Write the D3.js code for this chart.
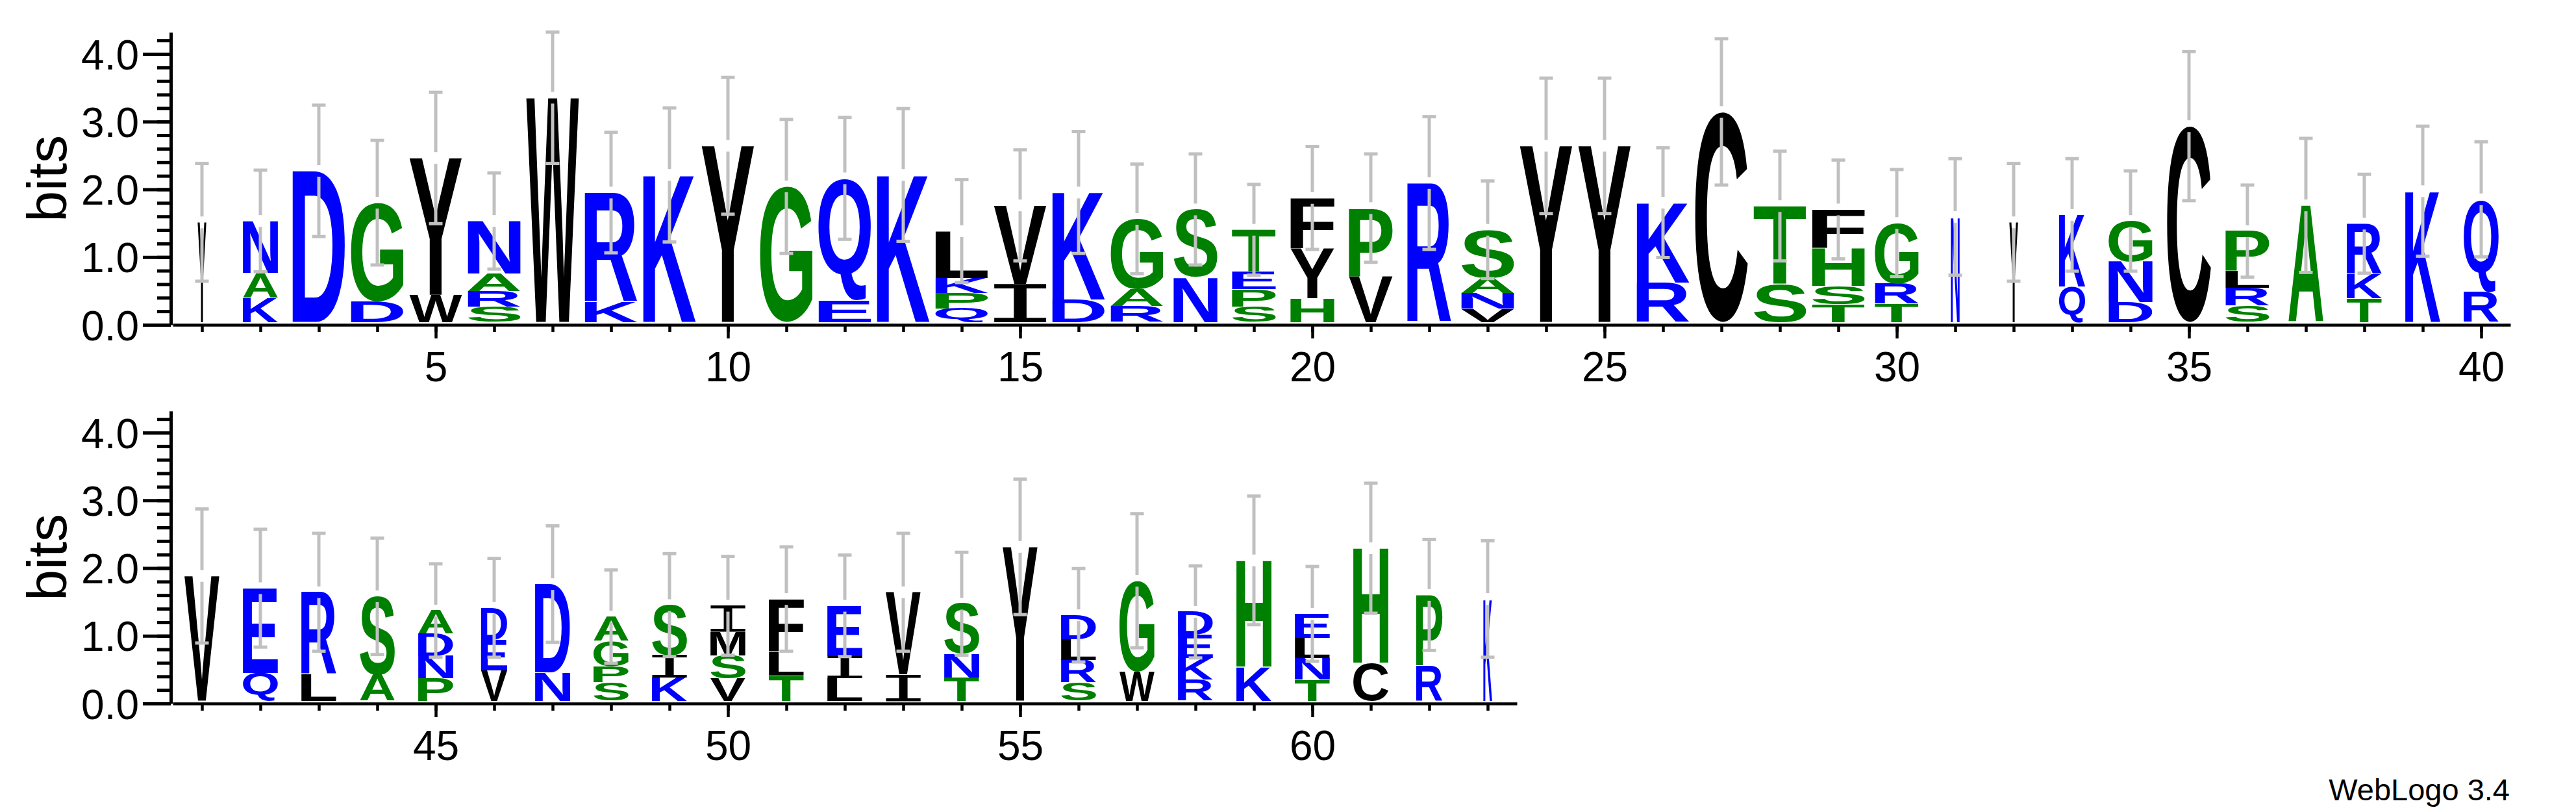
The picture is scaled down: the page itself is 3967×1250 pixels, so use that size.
<!DOCTYPE html>
<html><head><meta charset="utf-8">
<script src="https://cdn.jsdelivr.net/npm/d3@7"></script>
<style>html,body{margin:0;padding:0;background:#fff;} svg{display:block;}</style>
</head><body>
<svg id="chart" width="3967" height="1250"></svg>
<script>
// ---------- data ----------
const positions = [1,2,3,4,5,6,7,8,9,10,11,12,13,14,15,16,17,18,19,20,21,22,23,24,25,26,27,28,29,30,31,32,33,34,35,36,37,38,39,40,
  41,42,43,44,45,46,47,48,49,50,51,52,53,54,55,56,57,58,59,60,61,62,63];
// letters of each stack, bottom to top
const stackLetters = ["Y","KAN","D","DG","WY","SRAN","W","KR","K","Y","G","EQ","K","QPKL","IV","DK","RAG","NS","SPET","HYF",
  "VP","R","VNAS","Y","Y","RK","C","ST","TSHF","TRG","N","Y","QK","DNG","C","SRLP","A","TKR","K","RQ",
  "V","QE","LR","AS","PNDA","VED","ND","SPGA","KIS","VSMI","TLF","LIE","IV","TNS","Y","SRLD","WG","RKED","KH","TNLE","CH","RP","K"];
// height (bits) of each letter, bottom to top
const stackBits = [[1.47],[0.36,0.36,0.77],[2.23],[0.30,1.46],[0.40,2.02],[0.22,0.23,0.26,0.78],[3.31],[0.30,1.61],[2.17],[2.60],
  [2.00],[0.32,1.80],[2.17],[0.20,0.23,0.22,0.69],[0.56,1.16],[0.33,1.58],[0.23,0.25,1.04],[0.66,1.00],[0.23,0.25,0.26,0.62],[0.35,0.74,0.74],
  [0.68,1.00],[2.05],[0.20,0.23,0.22,0.71],[2.60],[2.60],[0.58,1.18],[3.10],[0.56,1.15],[0.26,0.27,0.56,0.57],[0.27,0.29,0.90],
  [1.55],[1.47],[0.52,1.06],[0.29,0.60,0.60],[2.89],[0.24,0.26,0.25,0.59],[1.72],[0.35,0.36,0.74],[1.93],[0.44,1.37],
  [1.84],[0.41,1.25],[0.39,1.21],[0.38,1.16],[0.33,0.33,0.33,0.34],[0.45,0.45,0.47],[0.42,1.30],[0.27,0.24,0.37,0.36],[0.34,0.33,0.74],[0.33,0.34,0.35,0.38],
  [0.37,0.36,0.77],[0.33,0.33,0.74],[0.39,1.21],[0.34,0.35,0.74],[2.27],[0.27,0.33,0.31,0.35],[0.43,1.34],[0.31,0.32,0.34,0.34],[0.50,1.57],[0.31,0.32,0.30,0.35],
  [0.56,1.69],[0.52,1.04],[1.50]];
// number of non-gap sequences (out of 6) -> stack width
const occupancy = [1,4,6,6,6,6,6,6,6,6,6,6,6,6,6,6,6,5,5,5,5,5,6,6,6,6,6,6,6,5,1,1,3,5,5,5,4,4,4,4,
  4,4,4,4,4,3,4,4,4,4,4,4,4,4,4,4,4,4,4,4,4,3,1];
const totalSeqs = 6;
// error bar half-widths (bits)
const errorBits = [0.87,0.75,0.97,0.92,0.97,0.71,0.97,0.89,0.99,1.01,0.99,0.90,0.98,0.76,0.82,0.90,0.81,0.82,0.67,0.76,
  0.80,0.98,0.72,1.00,1.00,0.81,1.08,0.81,0.73,0.79,0.86,0.87,0.83,0.74,1.10,0.68,0.99,0.73,0.96,0.85,
  0.99,0.87,0.87,0.86,0.69,0.73,0.86,0.69,0.76,0.73,0.77,0.75,0.87,0.76,1.00,0.69,0.99,0.68,0.95,0.70,0.96,0.82,0.86];
const yTickValues = [0,1,2,3,4];
const yMinorTicks = [0,0.2,0.4,0.6,0.8,1,1.2,1.4,1.6,1.8,2,2.2,2.4,2.6,2.8,3,3.2,3.4,3.6,3.8,4,4.2];
const rows = [{first:1,last:40},{first:41,last:63}];
const maxBits = 4.32;
const colorGroups = {blue:"RKDENQ", green:"SGHTAP", black:"YVMCLFIW"};
const colorValues = {blue:"#0000ff", green:"#008000", black:"#000000"};

// ---------- layout ----------
const W = 3967, H = 1250;
const rowAxisY = [500, 1083];
const bitPx = 104.25;
const colPx = 90;
const axisLeftX = 266;
const fullStackW = 81;
const letterLift = 4.5;
const labelFont = "'Liberation Sans', Arial, Helvetica, sans-serif";

const svg = d3.select("#chart");
svg.append("rect").attr("width", W).attr("height", H).attr("fill", "#fff");

function colorOf(ch){
  for (const k in colorGroups) if (colorGroups[k].includes(ch)) return colorValues[k];
  return "#000";
}
const ctx = document.createElement("canvas").getContext("2d");
const glyphCache = {};
function glyph(ch){
  if (glyphCache[ch]) return glyphCache[ch];
  const fam = ch === "I" ? "'DejaVu Sans Mono'" : "'Liberation Sans'";
  const weight = ch === "I" ? "normal" : "bold";
  ctx.font = weight + " 200px " + fam;
  const m = ctx.measureText(ch);
  const g = {fam, weight, L:m.actualBoundingBoxLeft, R:m.actualBoundingBoxRight, A:m.actualBoundingBoxAscent, D:m.actualBoundingBoxDescent};
  glyphCache[ch] = g;
  return g;
}

rows.forEach((row, ri) => {
  const n = row.last - row.first + 1;
  const axisY = rowAxisY[ri];
  const x = d3.scaleLinear().domain([row.first - 0.5, row.last + 0.5]).range([axisLeftX, axisLeftX + n * colPx]);
  const y = d3.scaleLinear().domain([0, maxBits]).range([axisY, axisY - maxBits * bitPx]);
  const g = svg.append("g");

  // y axis minor ticks
  const yMinor = g.append("g").attr("transform", `translate(${263},0)`)
    .call(d3.axisLeft(y).tickValues(yMinorTicks).tickSize(21).tickSizeOuter(0).tickFormat(""));
  yMinor.select(".domain").attr("stroke", "#000").attr("stroke-width", 5);
  yMinor.selectAll(".tick line").attr("stroke", "#000").attr("stroke-width", 5);
  yMinor.selectAll(".tick text").remove();
  // y axis major ticks
  const yMajor = g.append("g").attr("transform", `translate(${263},0)`)
    .call(d3.axisLeft(y).tickValues(yTickValues).tickSize(43).tickSizeOuter(0).tickPadding(6).tickFormat(d3.format(".1f")));
  yMajor.select(".domain").remove();
  yMajor.selectAll(".tick line").attr("stroke", "#000").attr("stroke-width", 5);
  yMajor.selectAll(".tick text").attr("font-family", labelFont).attr("font-size", 64).attr("fill", "#000").attr("dy", "0.36em");

  // x axis
  const rowPos = positions.filter(p => p >= row.first && p <= row.last);
  const xMinor = g.append("g").attr("transform", `translate(0,${axisY})`)
    .call(d3.axisBottom(x).tickValues(rowPos).tickSize(11).tickSizeOuter(0).tickFormat(""));
  xMinor.select(".domain").attr("stroke", "#000").attr("stroke-width", 4.5);
  xMinor.selectAll(".tick line").attr("stroke", "#000").attr("stroke-width", 4.5);
  xMinor.selectAll(".tick text").remove();
  const xMajor = g.append("g").attr("transform", `translate(0,${axisY})`)
    .call(d3.axisBottom(x).tickValues(rowPos.filter(p => p % 5 === 0)).tickSize(21).tickSizeOuter(0).tickPadding(21).tickFormat(d3.format("d")));
  xMajor.select(".domain").remove();
  xMajor.selectAll(".tick line").attr("stroke", "#000").attr("stroke-width", 4.5);
  xMajor.selectAll(".tick text").attr("font-family", labelFont).attr("font-size", 64).attr("fill", "#000");

  // y label
  g.append("text").attr("transform", `translate(102,${(y(0) + y(maxBits)) / 2}) rotate(-90)`)
    .attr("text-anchor", "middle").attr("font-family", labelFont).attr("font-size", 86).attr("fill", "#000").text("bits");

  // stacks
  rowPos.forEach(p => {
    const i = p - 1;
    const cx = x(p);
    const w = fullStackW * occupancy[i] / totalSeqs;
    let cum = 0;
    const letters = stackLetters[i].split("");
    letters.forEach((ch, k) => {
      const h = stackBits[i][k];
      const yB = y(cum) - letterLift, yT = y(cum + h) - letterLift;
      cum += h;
      const gl = glyph(ch);
      const sx = w / (gl.L + gl.R), sy = (yB - yT) / (gl.A + gl.D);
      g.append("text")
        .attr("transform", `translate(${cx - w / 2},${yT}) scale(${sx},${sy}) translate(${gl.L},${gl.A})`)
        .attr("font-family", gl.fam).attr("font-weight", gl.weight).attr("font-size", 200)
        .attr("fill", colorOf(ch)).text(ch);
    });
    // error bar
    const top = y(cum) - letterLift;
    const yHi = y(cum + errorBits[i]) - letterLift, yLo = y(cum - errorBits[i]) - letterLift;
    const eb = g.append("g").attr("stroke", "#c0c0c0").attr("stroke-width", 5).attr("fill", "none");
    eb.append("line").attr("x1", cx).attr("x2", cx).attr("y1", yHi).attr("y2", top - 9);
    eb.append("line").attr("x1", cx).attr("x2", cx).attr("y1", top + 9).attr("y2", yLo);
    eb.append("line").attr("x1", cx - 10.5).attr("x2", cx + 10.5).attr("y1", yHi).attr("y2", yHi);
    eb.append("line").attr("x1", cx - 10.5).attr("x2", cx + 10.5).attr("y1", yLo).attr("y2", yLo);
  });
});

svg.append("text").attr("x", 3865).attr("y", 1232).attr("text-anchor", "end")
  .attr("font-family", labelFont).attr("font-size", 47).attr("fill", "#000").text("WebLogo 3.4");
</script>
</body></html>
